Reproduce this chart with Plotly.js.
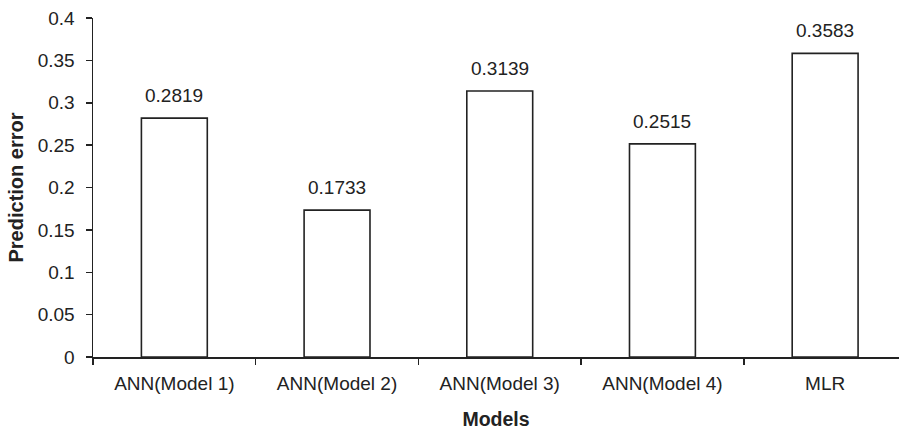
<!DOCTYPE html>
<html>
<head>
<meta charset="utf-8">
<script src="https://cdn.plot.ly/plotly-3.0.1.min.js"></script>
<style>html,body{margin:0;padding:0;background:#fff;}#chart{width:899px;height:430px;}</style>
</head>
<body>
<div id="chart"></div>
<script>
var categories = ["ANN(Model 1)", "ANN(Model 2)", "ANN(Model 3)", "ANN(Model 4)", "MLR"];
var predictionError = [0.2819, 0.1733, 0.3139, 0.2515, 0.3583];
var valueLabels = ["0.2819", "0.1733", "0.3139", "0.2515", "0.3583"];
var yTicks = [0, 0.05, 0.1, 0.15, 0.2, 0.25, 0.3, 0.35, 0.4];
var yTickLabels = ["0", "0.05", "0.1", "0.15", "0.2", "0.25", "0.3", "0.35", "0.4"];

var ink = "#222222";
var fontFamily = "Liberation Sans, Arial, Helvetica, sans-serif";
var trace = {
  type: "bar",
  x: categories,
  y: predictionError,
  width: 0.405,
  marker: {color: "#ffffff", line: {color: ink, width: 1.6}},
  hoverinfo: "skip"
};

var annotations = categories.map(function (c, i) {
  return {
    x: c, y: predictionError[i], xref: "x", yref: "y",
    text: valueLabels[i], showarrow: false,
    yanchor: "bottom", yshift: 10,
    font: {family: fontFamily, size: 19, color: ink}
  };
});

var layout = {
  width: 899, height: 430,
  margin: {l: 93, r: 0, t: 18, b: 73, pad: 0},
  paper_bgcolor: "#ffffff", plot_bgcolor: "#ffffff",
  showlegend: false,
  font: {family: fontFamily, size: 19, color: ink},
  xaxis: {
    type: "category",
    range: [-0.5, 4.454],
    showline: true, linecolor: ink, linewidth: 1.5,
    ticks: "outside", tickson: "boundaries", ticklen: 6, tickcolor: ink, tickwidth: 1.5,
    ticklabelstandoff: 9,
    showgrid: false, zeroline: false,
    tickfont: {size: 19, color: ink},
    title: {text: "<b>Models</b>", font: {size: 19.5, color: ink}, standoff: 22}
  },
  yaxis: {
    range: [0, 0.4],
    tickvals: yTicks, ticktext: yTickLabels,
    showline: true, linecolor: ink, linewidth: 1.5,
    ticks: "outside", ticklen: 6, tickcolor: ink, tickwidth: 1.5,
    ticklabelstandoff: 7,
    showgrid: false, zeroline: false,
    tickfont: {size: 19, color: ink},
    title: {text: "<b>Prediction error</b>", font: {size: 20, color: ink}, standoff: 8}
  },
  annotations: annotations
};

Plotly.newPlot("chart", [trace], layout, {staticPlot: true, displayModeBar: false});
</script>
</body>
</html>
